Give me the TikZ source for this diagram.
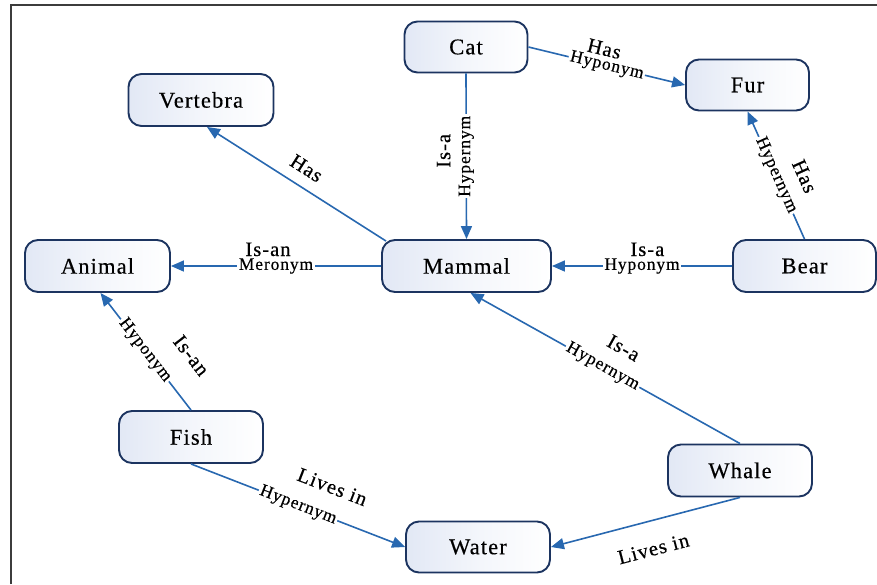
\documentclass[tikz,border=0pt]{standalone}
\usepackage{fontspec}
\setmainfont{Liberation Serif}[LetterSpace=5, FakeBold=0.4]
\usetikzlibrary{arrows.meta,calc}
\definecolor{edgeblue}{RGB}{40,104,176}
\definecolor{boxline}{RGB}{28,52,96}
\definecolor{boxtint}{RGB}{226,232,245}
\definecolor{framegray}{RGB}{60,60,60}
\begin{document}
\begin{tikzpicture}[x=1pt,y=-1pt,
  concept/.style={draw=boxline, line width=1.9pt, rounded corners=13pt,
    left color=boxtint, right color=white, middle color=boxtint!40!white,
    minimum width=144pt, minimum height=52pt, inner sep=0pt,
    font=\fontsize{22.5}{24}\selectfont, text=black},
  link/.style={draw=edgeblue, line width=1.6pt,
    -{Triangle[length=13pt,width=11pt]}},
  onlink/.style={fill=white, inner xsep=1.5pt, inner ysep=0pt,
    font=\fontsize{17.5}{18}\selectfont, text=black},
  uplabel/.style={anchor=south, inner xsep=0pt, inner ysep=#1,
    font=\fontsize{20.5}{22}\selectfont, text=black},
  downlabel/.style={anchor=north, inner xsep=0pt, inner ysep=#1,
    font=\fontsize{20.5}{22}\selectfont, text=black}
]
\useasboundingbox (0,0) rectangle (877,584);

% frame
\draw[line width=2.5pt, framegray] (11,584) -- (11,5) -- (877,5);

% concepts
\node[concept, minimum width=123pt, minimum height=51pt] (cat) at (466,47) {Cat};
\node[concept, minimum width=123pt, minimum height=51pt] (fur) at (747.5,85) {Fur};
\node[concept, minimum width=145pt] (vertebra) at (201,100) {Vertebra};
\node[concept, minimum width=145pt] (animal) at (97.5,266) {Animal};
\node[concept, minimum width=169pt] (mammal) at (466.5,266) {Mammal};
\node[concept, minimum width=143pt] (bear) at (804.5,266) {Bear};
\node[concept] (fish) at (191,437) {Fish};
\node[concept] (whale) at (740,470.5) {Whale};
\node[concept, minimum height=51pt] (water) at (478,547) {Water};

% relations
\draw[link] (cat.south)
  -- node[onlink, rotate=90] {Hypernym}
     node[pos=0.467, rotate=90, uplabel=15pt] {Is-a}
  (mammal.north);

\draw[link] (cat.east)
  -- node[onlink, sloped] {Hyponym}
     node[pos=0.46, sloped, uplabel=8.5pt] {Has}
  (fur.west);

\draw[link] (bear.north)
  -- node[onlink, sloped] {Hypernym}
     node[pos=0.41, sloped, uplabel=18pt] {Has}
  (fur.south);

\draw[link] ($(mammal.north west)+(5,2)$)
  -- node[pos=0.5, sloped, uplabel=11pt] {Has}
  ($(vertebra.south)+(6,0)$);

\draw[link] (mammal.west)
  -- node[onlink] {Meronym}
     node[pos=0.538, uplabel=9pt] {Is-an}
  (animal.east);

\draw[link] (bear.west)
  -- node[onlink] {Hyponym}
     node[pos=0.47, uplabel=9pt] {Is-a}
  (mammal.east);

\draw[link] (whale.north)
  -- node[onlink, sloped, pos=0.51] {Hypernym}
     node[pos=0.48, sloped, uplabel=19pt] {Is-a}
  ($(mammal.south)+(4,0)$);

\draw[link] (fish.north)
  -- node[onlink, sloped, pos=0.51] {Hyponym}
     node[pos=0.29, sloped, uplabel=26pt] {Is-an}
  ($(animal.south)+(3,0)$);

\draw[link] (fish.south)
  -- node[onlink, sloped] {Hypernym}
     node[pos=0.61, sloped, uplabel=22pt] {Lives in}
  (water.west);

\draw[link] (whale.south)
  -- node[pos=0.495, sloped, downlabel=20pt] {Lives in}
  (water.east);
\end{tikzpicture}
\end{document}
